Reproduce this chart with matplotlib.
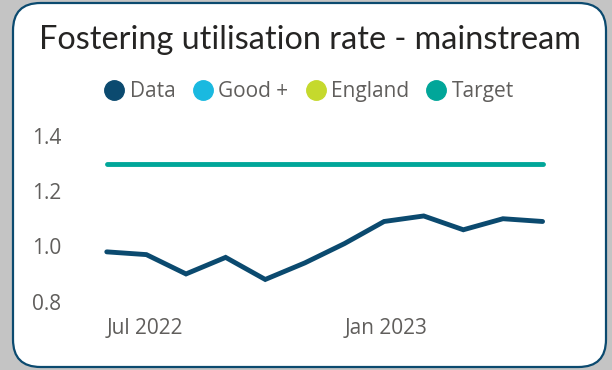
import matplotlib.pyplot as plt
import numpy as np
from matplotlib.patches import FancyBboxPatch
from matplotlib.lines import Line2D

months = ["Jul 2022", "Aug 2022", "Sep 2022", "Oct 2022", "Nov 2022", "Dec 2022",
          "Jan 2023", "Feb 2023", "Mar 2023", "Apr 2023", "May 2023", "Jun 2023"]
data = [0.98, 0.97, 0.90, 0.96, 0.88, 0.94, 1.01, 1.09, 1.11, 1.06, 1.10, 1.09]
target = [1.3] * 12
tick_labels = ["Jul 2022", "Jan 2023"]
tick_idx = [0, 6]

c_data = "#0b4a6f"
c_good = "#1ab9e0"
c_eng = "#c5d92d"
c_target = "#01a699"
c_text = "#605e5c"

plt.rcParams['font.family'] = ['Open Sans', 'DejaVu Sans']

fig = plt.figure(figsize=(6.12, 3.7), dpi=100)
fig.patch.set_facecolor("#c4c4c4")

# card background
card = FancyBboxPatch((13 / 612, 3 / 370), 593 / 612, 364 / 370,
                      boxstyle="round,pad=0,rounding_size=0.045",
                      transform=fig.transFigure, facecolor="white",
                      edgecolor=c_data, linewidth=1.6, mutation_aspect=612 / 370,
                      zorder=-5)
fig.patches.append(card)

fig.text(0.507, 0.893, "Fostering utilisation rate - mainstream", ha="center", va="center",
         fontsize=23.3, color="#252423", family=['Lato', 'DejaVu Sans'])

# legend
handles = [Line2D([], [], marker="o", linestyle="", markersize=14, color=c)
           for c in [c_data, c_good, c_eng, c_target]]
fig.legend(handles, ["Data", "Good +", "England", "Target"], loc="center",
           bbox_to_anchor=(0.505, 0.752), ncol=4, frameon=False, fontsize=15,
           labelcolor=c_text, handletextpad=0.25, columnspacing=0.8, handlelength=1.0)

ax = fig.add_axes([0.168, 0.185, 0.725, 0.485])
ax.set_facecolor("none")
x = np.arange(len(months))
ax.plot(x, target, color=c_target, linewidth=3.5, solid_capstyle="round")
ax.plot(x, data, color=c_data, linewidth=3.5, solid_capstyle="round", solid_joinstyle="miter")

ax.set_xlim(-0.1, 11.1)
ax.set_ylim(0.8, 1.45)
ax.set_yticks([0.8, 1.0, 1.2, 1.4])
ax.set_yticklabels(["0.8", "1.0", "1.2", "1.4"])
ax.set_xticks(tick_idx)
ax.set_xticklabels(tick_labels, ha="left")
ax.tick_params(length=0, labelsize=15, labelcolor=c_text)
ax.tick_params(axis="y", pad=51)
ax.tick_params(axis="x", pad=12)
for lbl in ax.get_yticklabels():
    lbl.set_horizontalalignment("left")
for s in ax.spines.values():
    s.set_visible(False)

fig.savefig("out.png", dpi=100, facecolor=fig.get_facecolor())
